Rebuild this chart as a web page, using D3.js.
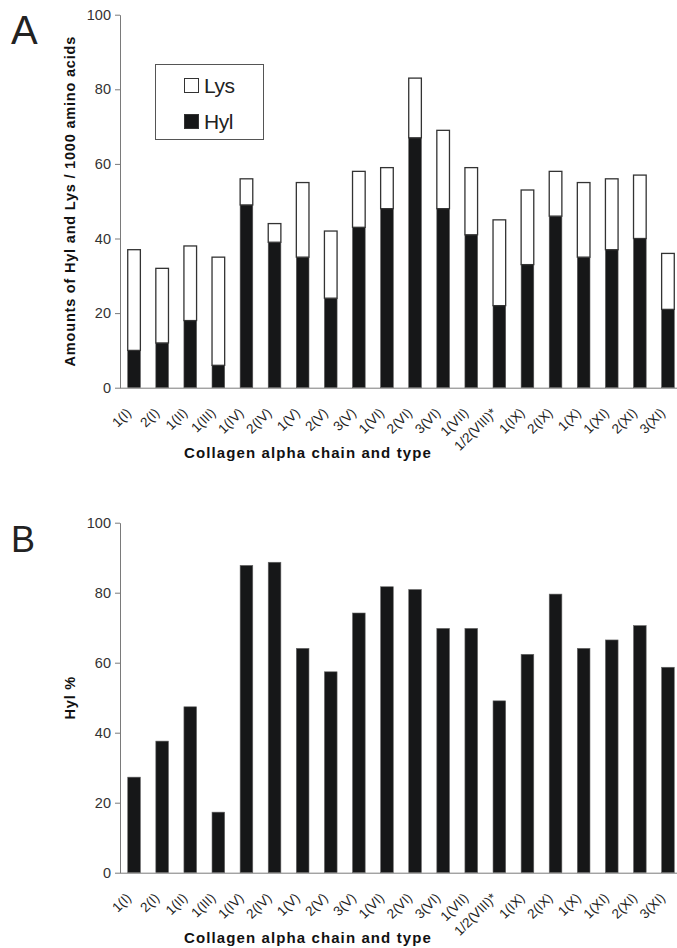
<!DOCTYPE html>
<html>
<head>
<meta charset="utf-8">
<script src="https://cdn.jsdelivr.net/npm/d3@7"></script>
<style>
  body { margin: 0; background: #fff; }
  svg { display: block; font-family: Arial, "Liberation Sans", sans-serif; }
</style>
</head>
<body>
<svg id="chart" width="677" height="948"></svg>
<script>
// collagen chains
var chains = ["1(I)", "2(I)", "1(II)", "1(III)", "1(IV)", "2(IV)", "1(V)", "2(V)", "3(V)",
    "1(VI)", "2(VI)", "3(VI)", "1(VII)", "1/2(VIII)*", "1(IX)", "2(IX)", "1(X)", "1(XI)", "2(XI)", "3(XI)"];

// residues / 1000 amino acids
var hylAmount = [10, 12, 18, 6, 49, 39, 35, 24, 43, 48, 67, 48, 41, 22, 33, 46, 35, 37, 40, 21];
var lysAmount = [27, 20, 20, 29, 7, 5, 20, 18, 15, 11, 16, 21, 18, 23, 20, 12, 20, 19, 17, 15];

// Hyl as % of Hyl+Lys
var hylPercent = [27.3, 37.6, 47.4, 17.3, 87.8, 88.7, 64.1, 57.4, 74.2, 81.7, 80.9, 69.8, 69.8, 49.1,
    62.4, 79.6, 64.1, 66.5, 70.6, 58.7];

var yTicks = [0, 20, 40, 60, 80, 100];
var legendItems = ["Lys", "Hyl"];

var svg = d3.select("#chart");
var DARK = "#161718";
var AXIS = "#7a7a7a";

var x = d3.scaleBand()
    .domain(chains)
    .range([120, 682])
    .paddingInner(0.55)
    .paddingOuter(0.275);

function drawAxes(y, baseY, title, letter, letterY, letterSize, yTitle) {
    // y axis
    var ya = svg.append("g")
        .attr("transform", "translate(120,0)")
        .call(d3.axisLeft(y).tickValues(yTicks).tickSize(5).tickSizeOuter(0).tickFormat(d3.format("d")));
    ya.select(".domain").attr("stroke", AXIS);
    ya.selectAll(".tick line").attr("stroke", AXIS);
    ya.selectAll(".tick text")
        .attr("font-size", "14.5px")
        .attr("fill", "#333")
        .attr("x", -9)
        .attr("font-family", "Arial, 'Liberation Sans', sans-serif");

    // x axis
    var xa = svg.append("g")
        .attr("transform", "translate(0," + baseY + ")")
        .call(d3.axisBottom(x).tickSize(0).tickSizeOuter(0));
    xa.select(".domain").attr("stroke", AXIS).attr("d", "M120,0.5H677");
    xa.selectAll(".tick text")
        .attr("font-size", "13.5px")
        .attr("fill", "#222")
        .attr("font-family", "Arial, 'Liberation Sans', sans-serif")
        .attr("text-anchor", "end")
        .attr("dy", null)
        .attr("y", 0)
        .attr("transform", "translate(-2,26) rotate(-45)");

    svg.append("text")
        .attr("x", 308)
        .attr("y", baseY + 70)
        .attr("text-anchor", "middle")
        .attr("font-size", "15px")
        .attr("font-weight", "bold")
        .attr("letter-spacing", "1.1px")
        .attr("fill", "#111")
        .text(title);

    svg.append("text")
        .attr("transform", "translate(74.5," + (y(50)) + ") rotate(-90)")
        .attr("text-anchor", "middle")
        .attr("font-size", "14.5px")
        .attr("font-weight", "bold")
        .attr("letter-spacing", "0.8px")
        .attr("fill", "#111")
        .text(yTitle);

    svg.append("text")
        .attr("x", 11)
        .attr("y", letterY)
        .attr("font-size", letterSize + "px")
        .attr("fill", "#222")
        .text(letter);
}

// ---- panel A ----
var yA = d3.scaleLinear().domain([0, 100]).range([387.7, 14.7]);

var rows = chains.map(function(c, i) { return { chain: c, Hyl: hylAmount[i], Lys: lysAmount[i] }; });
var stacked = d3.stack().keys(["Hyl", "Lys"])(rows);

svg.append("g").selectAll("g")
    .data(stacked)
    .join("g")
    .attr("fill", function(d) { return d.key === "Hyl" ? DARK : "#fff"; })
    .attr("stroke", function(d) { return d.key === "Hyl" ? "#555" : "#333"; })
    .attr("stroke-width", function(d) { return d.key === "Hyl" ? 0.6 : 1.3; })
    .selectAll("rect")
    .data(function(d) { return d; })
    .join("rect")
    .attr("x", function(d) { return x(d.data.chain); })
    .attr("width", x.bandwidth())
    .attr("y", function(d) { return yA(d[1]); })
    .attr("height", function(d) { return yA(d[0]) - yA(d[1]); });

drawAxes(yA, 387.7, "Collagen alpha chain and type", "A", 44, 40,
    "Amounts of Hyl and Lys / 1000 amino acids");

// legend
var lg = svg.append("g");
lg.append("rect")
    .attr("x", 155.5).attr("y", 64.5).attr("width", 108).attr("height", 75)
    .attr("fill", "#fff").attr("stroke", "#555").attr("stroke-width", 1);
legendItems.forEach(function(k, i) {
    lg.append("rect")
        .attr("x", 184.5).attr("y", 78.5 + i * 36).attr("width", 14).attr("height", 14)
        .attr("fill", k === "Hyl" ? DARK : "#fff")
        .attr("stroke", "#333").attr("stroke-width", 1);
    lg.append("text")
        .attr("x", 204).attr("y", 92.5 + i * 36)
        .attr("font-size", "21px")
        .attr("fill", "#222")
        .attr("letter-spacing", "-0.5px")
        .text(k);
});

// ---- panel B ----
var yB = d3.scaleLinear().domain([0, 100]).range([872.7, 522.7]);

svg.append("g").selectAll("rect")
    .data(hylPercent)
    .join("rect")
    .attr("x", function(d, i) { return x(chains[i]); })
    .attr("width", x.bandwidth())
    .attr("y", function(d) { return yB(d); })
    .attr("height", function(d) { return yB(0) - yB(d); })
    .attr("fill", DARK)
    .attr("stroke", "#666")
    .attr("stroke-width", 0.6);

drawAxes(yB, 872.7, "Collagen alpha chain and type", "B", 552, 36, "Hyl %");
</script>
</body>
</html>
